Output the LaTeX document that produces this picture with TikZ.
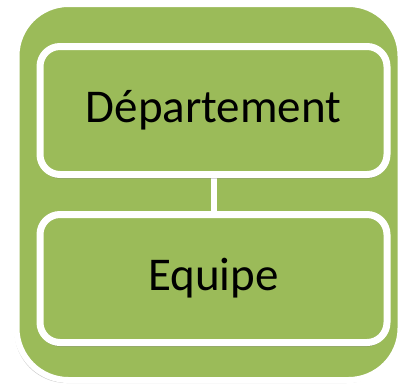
\documentclass[tikz,border=0pt]{standalone}
\usepackage{fontspec}
\setmainfont{Carlito}
\usetikzlibrary{shadows}
\definecolor{olivegreen}{HTML}{9BBB59}
\pgfdeclarelayer{bg}
\pgfdeclarelayer{mid}
\pgfsetlayers{bg,mid,main}
\begin{document}
\begin{tikzpicture}[x=1pt,y=-1pt,
  outerbox/.style={draw=white, line width=6pt, fill=olivegreen, rounded corners=52pt,
    minimum width=384pt, minimum height=376pt, inner sep=0pt,
    drop shadow={shadow xshift=-2pt, shadow yshift=-3pt, opacity=0.35, fill=black!60}},
  unitbox/.style={draw=white, line width=7pt, fill=olivegreen, rounded corners=20pt,
    minimum width=347pt, minimum height=128pt, inner sep=0pt,
    font=\fontsize{47}{50}\selectfont,
    drop shadow={shadow xshift=0pt, shadow yshift=-4pt, opacity=0.4, fill=black!70}},
  link/.style={draw=white, line width=6pt}]
\useasboundingbox (0,0) rectangle (404,384);
\begin{pgfonlayer}{bg}
\node[outerbox] (outer) at (208.5,192) {};
\end{pgfonlayer}
\node[unitbox] (dep) at (213.5,110.5) {Département};
\node[unitbox] (eq) at (213.5,278.5) {Equipe};
\begin{pgfonlayer}{mid}
\draw[link] (dep.south) -- (eq.north);
\end{pgfonlayer}
\end{tikzpicture}
\end{document}
